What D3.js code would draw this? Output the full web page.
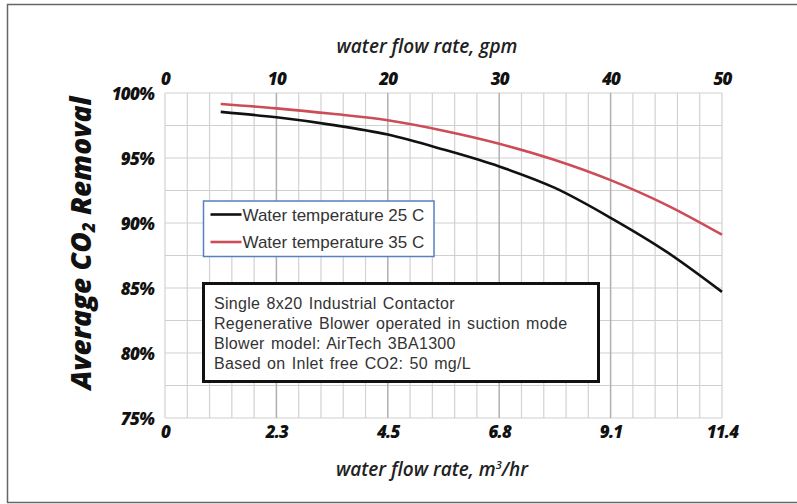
<!DOCTYPE html>
<html>
<head>
<meta charset="utf-8">
<script src="https://cdn.jsdelivr.net/npm/d3@7"></script>
<style>
  body { margin: 0; background: #fff; }
  .tick text { font-family: "Open Sans", sans-serif; font-weight: 800; font-style: italic; font-size: 17px; fill: #111; letter-spacing: -0.8px; }
  .axisTitle { font-family: "Open Sans", sans-serif; font-style: italic; font-weight: 600; font-size: 19px; fill: #222; }
  .legendText, .noteText { font-family: "Liberation Sans", Arial, sans-serif; fill: #333; }
</style>
</head>
<body>
<div id="chart"></div>
<script>
// flow rate in gpm where curves were read
let gpm = [5, 10, 15, 20, 25, 30, 35, 40, 45, 50]
// average CO2 removal (%)
let temp25 = [98.55, 98.13, 97.55, 96.8, 95.65, 94.35, 92.7, 90.4, 87.8, 84.7]
let temp35 = [99.15, 98.82, 98.4, 97.9, 97.1, 96.1, 94.85, 93.3, 91.4, 89.1]

let topTicks = [0, 10, 20, 30, 40, 50]
let bottomTickLabels = ["0", "2.3", "4.5", "6.8", "9.1", "11.4"]
let yTicks = [75, 80, 85, 90, 95, 100]
let seriesNames = ["Water temperature 25 C", "Water temperature 35 C"]
let noteLines = [
    "Single 8x20 Industrial Contactor",
    "Regenerative Blower operated in suction mode",
    "Blower model: AirTech 3BA1300",
    "Based on Inlet free CO2: 50 mg/L"
]

function drawChart(){
    let width = 797
    let height = 504
    let margin = {top: 93, bottom: 86, left: 165, right: 75}
    let innerW = width - margin.left - margin.right
    let innerH = height - margin.top - margin.bottom
    let colours = ["#111111", "#cc4d57"]

    let svg = d3.select("#chart")
        .append("svg")
            .attr("width", width)
            .attr("height", height)

    // outer frame (right edge runs off the picture)
    svg.append("path")
        .attr("d", "M800,4.5 H7.5 V502.5 H800")
        .attr("fill", "none")
        .attr("stroke", "#666")
        .attr("stroke-width", 1.5)

    let x = d3.scaleLinear().domain([0, 50]).range([0, innerW])
    let y = d3.scaleLinear().domain([75, 100]).range([innerH, 0])

    let g = svg.append("g").attr("transform", `translate(${margin.left},${margin.top})`)

    // grid
    let grid = g.append("g")
    grid.selectAll(".hGrid")
        .data(d3.range(75, 100.1, 2.5))
        .enter()
        .append("line")
            .attr("x1", 0).attr("x2", innerW)
            .attr("y1", d => y(d)).attr("y2", d => y(d))
            .attr("stroke", "#cfcfcf")
            .attr("stroke-width", 1.2)
    grid.selectAll(".vGrid")
        .data(d3.range(0, 50.1, 2))
        .enter()
        .append("line")
            .attr("x1", d => x(d)).attr("x2", d => x(d))
            .attr("y1", 0).attr("y2", innerH)
            .attr("stroke", d => (d % 10 == 0 && d > 0 && d < 50) ? "#b0b0b0" : "#d2d2d2")
            .attr("stroke-width", d => (d % 10 == 0 && d > 0 && d < 50) ? 1.5 : 1.2)

    // axes (labels only)
    let topAxis = g.append("g")
        .call(d3.axisTop(x).tickValues(topTicks).tickSize(0).tickPadding(8))
    let bottomAxis = g.append("g")
        .attr("transform", `translate(0,${innerH})`)
        .call(d3.axisBottom(x).tickValues(topTicks).tickSize(0).tickPadding(8)
            .tickFormat((d, i) => bottomTickLabels[i]))
    let leftAxis = g.append("g")
        .call(d3.axisLeft(y).tickValues(yTicks).tickSize(0).tickPadding(11)
            .tickFormat(d => d + "%"))
    leftAxis.selectAll("text").attr("dy", "0.36em")
    ;[topAxis, bottomAxis, leftAxis].forEach(a => a.select(".domain").remove())

    // curves
    let line = d3.line()
        .x(d => x(d[0]))
        .y(d => y(d[1]))
        .curve(d3.curveMonotoneX)
    ;[temp25, temp35].forEach(function(series, i){
        g.append("path")
            .attr("fill", "none")
            .attr("stroke", colours[i])
            .attr("stroke-width", 2.6)
            .attr("d", line(gpm.map((d, j) => [d, series[j]])))
    })

    // legend
    let legend = svg.append("g").attr("transform", "translate(203.5,201)")
    legend.append("rect")
        .attr("width", 230.5).attr("height", 55.5)
        .attr("fill", "#fff")
        .attr("stroke", "#5a7fc0")
        .attr("stroke-width", 1.5)
    seriesNames.forEach(function(name, i){
        legend.append("line")
            .attr("x1", 7).attr("x2", 38)
            .attr("y1", 13.5 + i * 27.5).attr("y2", 13.5 + i * 27.5)
            .attr("stroke", colours[i])
            .attr("stroke-width", 2.6)
        legend.append("text")
            .attr("class", "legendText")
            .attr("x", 39)
            .attr("y", 19.5 + i * 27.5)
            .attr("font-size", "17px")
            .text(name)
    })

    // note box
    let note = svg.append("g").attr("transform", "translate(203.5,283.5)")
    note.append("rect")
        .attr("width", 395).attr("height", 98)
        .attr("fill", "#fff")
        .attr("stroke", "#111")
        .attr("stroke-width", 3)
    note.selectAll(".noteText")
        .data(noteLines)
        .enter()
        .append("text")
            .attr("class", "noteText")
            .attr("x", 10.5)
            .attr("y", (d, i) => 25 + i * 20)
            .attr("font-size", "16px")
            .attr("letter-spacing", "0.3px")
            .attr("word-spacing", "1.5px")
            .text(d => d)

    // axis titles
    svg.append("text")
        .attr("class", "axisTitle")
        .attr("x", 427).attr("y", 53)
        .attr("text-anchor", "middle")
        .text("water flow rate, gpm")
    let bt = svg.append("text")
        .attr("class", "axisTitle")
        .attr("x", 432).attr("y", 476)
        .attr("text-anchor", "middle")
        .text("water flow rate, m")
    bt.append("tspan").attr("font-size", "11px").attr("dy", "-7").text("3")
    bt.append("tspan").attr("dy", "7").text("/hr")

    let yt = svg.append("text")
        .attr("transform", "translate(91,243) rotate(-90)")
        .attr("text-anchor", "middle")
        .attr("font-family", "Open Sans, sans-serif")
        .attr("font-weight", 800)
        .attr("font-style", "italic")
        .attr("font-size", "28px")
        .attr("fill", "#111")
        .text("Average CO")
    yt.append("tspan").attr("font-size", "17px").attr("dy", "4").text("2")
    yt.append("tspan").attr("dy", "-4").text(" Removal")
}
drawChart()
</script>
</body>
</html>
